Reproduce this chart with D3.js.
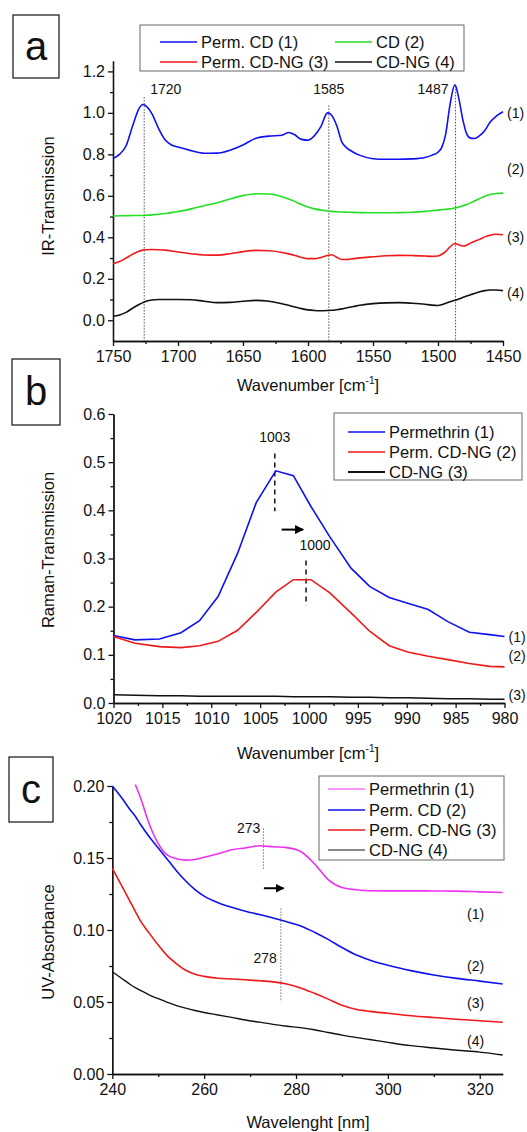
<!DOCTYPE html>
<html lang="en">
<head>
  <meta charset="UTF-8">
  <title>Spectra</title>
  <script src="https://d3js.org/d3.v7.min.js"></script>
  <style>
    body { margin: 0; background: #fff; }
    text { font-family: 'Liberation Sans', Arial, sans-serif; fill: #111; }
  </style>
</head>
<body>
  <div id="root"></div>
  <script>
    // a - IR
    const irWave = [1750, 1745, 1740, 1735, 1730, 1727, 1724, 1720, 1715, 1710, 1705, 1700, 1690, 1680, 1670, 1660, 1650, 1640, 1630, 1620, 1615, 1610, 1605, 1600, 1595, 1590, 1585, 1582, 1578, 1574, 1570, 1565, 1560, 1550, 1540, 1530, 1520, 1510, 1505, 1500, 1497, 1494, 1491, 1487, 1484, 1481, 1478, 1475, 1472, 1468, 1464, 1460, 1455, 1450]
    const irPermCD = [0.78, 0.80, 0.84, 0.935, 1.02, 1.04, 1.03, 0.995, 0.925, 0.87, 0.845, 0.835, 0.818, 0.805, 0.806, 0.82, 0.845, 0.878, 0.888, 0.892, 0.905, 0.893, 0.872, 0.868, 0.89, 0.935, 1.0, 0.99, 0.94, 0.86, 0.83, 0.81, 0.795, 0.779, 0.776, 0.776, 0.778, 0.785, 0.795, 0.81, 0.835, 0.90, 1.03, 1.135, 1.07, 0.97, 0.90, 0.878, 0.876, 0.89, 0.915, 0.955, 0.985, 1.005]
    const irCD = [0.503, 0.504, 0.504, 0.505, 0.505, 0.505, 0.506, 0.508, 0.511, 0.515, 0.519, 0.524, 0.537, 0.552, 0.567, 0.585, 0.601, 0.610, 0.609, 0.596, 0.585, 0.572, 0.558, 0.546, 0.537, 0.531, 0.527, 0.525, 0.523, 0.522, 0.521, 0.520, 0.519, 0.518, 0.518, 0.519, 0.521, 0.525, 0.528, 0.531, 0.533, 0.535, 0.537, 0.541, 0.546, 0.552, 0.558, 0.566, 0.575, 0.587, 0.598, 0.606, 0.611, 0.613]
    const irPermCDNG = [0.273, 0.283, 0.30, 0.318, 0.333, 0.338, 0.340, 0.341, 0.340, 0.338, 0.334, 0.329, 0.321, 0.315, 0.314, 0.321, 0.331, 0.337, 0.335, 0.327, 0.32, 0.312, 0.303, 0.297, 0.297, 0.303, 0.312, 0.316, 0.304, 0.293, 0.293, 0.297, 0.301, 0.306, 0.311, 0.313, 0.312, 0.31, 0.308, 0.31, 0.318, 0.332, 0.352, 0.37, 0.364, 0.358, 0.362, 0.372, 0.38, 0.39, 0.402, 0.41, 0.415, 0.412]
    const irCDNG = [0.019, 0.025, 0.038, 0.058, 0.076, 0.085, 0.093, 0.098, 0.1, 0.1, 0.1, 0.1, 0.099, 0.092, 0.085, 0.086, 0.092, 0.096, 0.092, 0.08, 0.072, 0.064, 0.056, 0.05, 0.047, 0.046, 0.047, 0.048, 0.051, 0.055, 0.06, 0.066, 0.072, 0.08, 0.084, 0.085, 0.082, 0.077, 0.073, 0.071, 0.075, 0.082, 0.089, 0.096, 0.102, 0.11, 0.117, 0.123, 0.129, 0.137, 0.143, 0.146, 0.146, 0.143]
    const irPeaks = [['1720', 1726, 1.076], ['1585', 1584, 1.036], ['1487', 1486.5, 1.13]]

    // b - Raman
    const ramanWave = [1020, 1017.8, 1015.3, 1013.1, 1011.2, 1009.3, 1007.3, 1005.4, 1003.4, 1001.6, 999.8, 997.9, 995.7, 993.8, 991.8, 989.9, 987.8, 985.8, 983.6, 981.5, 980]
    const ramanPerm = [0.14, 0.131, 0.133, 0.146, 0.171, 0.221, 0.311, 0.416, 0.482, 0.472, 0.408, 0.346, 0.28, 0.242, 0.219, 0.207, 0.194, 0.169, 0.147, 0.142, 0.138]
    const ramanPermCDNG = [0.138, 0.124, 0.117, 0.115, 0.119, 0.128, 0.151, 0.188, 0.23, 0.256, 0.256, 0.229, 0.187, 0.149, 0.119, 0.106, 0.097, 0.09, 0.082, 0.076, 0.075]
    const ramanCDNG = [0.017, 0.016, 0.015, 0.015, 0.014, 0.014, 0.014, 0.014, 0.014, 0.013, 0.013, 0.013, 0.012, 0.012, 0.011, 0.011, 0.010, 0.009, 0.009, 0.008, 0.008]

    // c - UV
    const uvWave = [240, 242, 244, 245, 246, 248, 250, 252, 254, 256, 258, 260, 263, 266, 269, 272, 275, 278, 281, 284, 287, 290, 293, 296, 300, 305, 310, 315, 320, 325]
    const uvPerm = [null, null, null, 0.201, 0.193, 0.174, 0.16, 0.152, 0.1495, 0.1485, 0.149, 0.1505, 0.153, 0.1557, 0.157, 0.1585, 0.1578, 0.1572, 0.1545, 0.146, 0.135, 0.1295, 0.128, 0.1273, 0.1272, 0.1272, 0.1271, 0.127, 0.1265, 0.126]
    const uvPermCD = [0.2, 0.192, 0.183, 0.179, 0.174, 0.165, 0.157, 0.149, 0.141, 0.134, 0.128, 0.1235, 0.119, 0.1158, 0.113, 0.1107, 0.1083, 0.1057, 0.1028, 0.0985, 0.0935, 0.0878, 0.0828, 0.0792, 0.0755, 0.0718, 0.0688, 0.0664, 0.0645, 0.0625]
    const uvPermCDNG = [0.1428, 0.131, 0.119, 0.113, 0.107, 0.098, 0.0895, 0.082, 0.0765, 0.072, 0.0693, 0.0678, 0.0665, 0.066, 0.0654, 0.0648, 0.064, 0.0625, 0.0598, 0.056, 0.052, 0.0478, 0.045, 0.0435, 0.0422, 0.0405, 0.0392, 0.038, 0.037, 0.0359]
    const uvCDNG = [0.071, 0.0665, 0.062, 0.06, 0.0583, 0.055, 0.0523, 0.0498, 0.0475, 0.0457, 0.0441, 0.0427, 0.041, 0.0393, 0.0375, 0.036, 0.0345, 0.0332, 0.0322, 0.0307, 0.0288, 0.027, 0.0254, 0.024, 0.022, 0.0197, 0.0181, 0.0165, 0.0152, 0.0132]

    const svg = d3.select('#root')
      .append('svg')
      .attr('width', 527)
      .attr('height', 1132)
      .style('background', '#fff')

    svg.append('defs').append('marker')
      .attr('id', 'head')
      .attr('viewBox', '0 0 10 10')
      .attr('refX', 9).attr('refY', 5)
      .attr('markerWidth', 4.5).attr('markerHeight', 4.5)
      .attr('orient', 'auto')
      .append('path').attr('d', 'M0,0L10,5L0,10Z').attr('fill', '#000')

    function axes(x, y, o) {
      const g = svg.append('g')
      const x0 = x.range()[0], y0 = y.range()[0]
      g.append('g').attr('transform', `translate(0,${y0})`)
        .call(d3.axisBottom(x).tickValues(o.xMinor).tickSize(3).tickFormat('').tickSizeOuter(0))
      g.append('g').attr('transform', `translate(0,${y0})`)
        .call(d3.axisBottom(x).tickValues(o.xMajor).tickSize(5).tickPadding(5).tickSizeOuter(0).tickFormat(d3.format('d')))
      g.append('g').attr('transform', `translate(${x0},0)`)
        .call(d3.axisLeft(y).tickValues(o.yMinor).tickSize(3).tickFormat('').tickSizeOuter(0))
      g.append('g').attr('transform', `translate(${x0},0)`)
        .call(d3.axisLeft(y).tickValues(o.yMajor).tickSize(5).tickPadding(3).tickSizeOuter(0).tickFormat(d3.format(o.fmt)))
      g.selectAll('text').attr('font-size', 16)
      g.selectAll('path, line').attr('stroke', '#111').attr('stroke-width', 1.3)

      const xt = g.append('text').attr('x', o.xTitlePos[0]).attr('y', o.xTitlePos[1])
        .attr('text-anchor', 'middle').attr('font-size', 16.5).text(o.xTitle)
      if (o.sup) {
        xt.append('tspan').attr('font-size', 10).attr('dy', -7).text(o.sup)
        xt.append('tspan').attr('dy', 7).text(']')
      }
      g.append('text')
        .attr('transform', `translate(${o.yTitlePos[0]},${o.yTitlePos[1]}) rotate(-90)`)
        .attr('text-anchor', 'middle').attr('font-size', 16.5).text(o.yTitle)

      // panel letter
      const b = o.box
      g.append('rect').attr('x', b[0]).attr('y', b[1]).attr('width', b[2]).attr('height', b[3])
        .attr('fill', 'none').attr('stroke', '#111').attr('stroke-width', 1.2)
      g.append('text').attr('x', b[0] + b[2] / 2).attr('y', b[1] + b[3] / 2 + 13)
        .attr('text-anchor', 'middle').attr('font-size', 40).text(o.letter)
      return g
    }

    function curve(x, y, xs, ys, color, type, w) {
      const line = d3.line()
        .defined(i => ys[i] != null)
        .x(i => x(xs[i]))
        .y(i => y(ys[i]))
        .curve(type)
      svg.append('path')
        .attr('d', line(d3.range(xs.length)))
        .attr('fill', 'none')
        .attr('stroke', color)
        .attr('stroke-width', w || 1.6)
    }

    function legend(box, items, lx, rowY, cols) {
      const g = svg.append('g')
      g.append('rect').attr('x', box[0]).attr('y', box[1]).attr('width', box[2]).attr('height', box[3])
        .attr('fill', '#fff').attr('stroke', '#666').attr('stroke-width', 1)
      items.forEach((it, i) => {
        const c = cols ? i % cols : 0
        const r = cols ? Math.floor(i / cols) : i
        const sx = lx[c]
        const yy = rowY[r]
        g.append('line').attr('x1', sx).attr('x2', sx + 37).attr('y1', yy).attr('y2', yy)
          .attr('stroke', it[1]).attr('stroke-width', it[2] || 1.6)
        g.append('text').attr('x', sx + 41).attr('y', yy + 6).attr('font-size', 16.5).text(it[0])
      })
    }

    function label(x, y, t, anchor, size) {
      svg.append('text').attr('x', x).attr('y', y).attr('text-anchor', anchor || 'start')
        .attr('font-size', size || 14).text(t)
    }

    const blue = '#1010f0', green = '#22e022', red = '#f01818', black = '#111', magenta = '#f030f0'

    // ---------- a ----------
    const xa = d3.scaleLinear().domain([1750, 1450]).range([113, 503])
    const ya = d3.scaleLinear().domain([-0.1, 1.25]).range([341, 61])
    axes(xa, ya, {
      xMajor: d3.range(1750, 1449, -50), xMinor: d3.range(1725, 1450, -50),
      yMajor: [0, 0.2, 0.4, 0.6, 0.8, 1.0, 1.2], yMinor: [0.1, 0.3, 0.5, 0.7, 0.9, 1.1], fmt: '.1f',
      xTitle: 'Wavenumber [cm', sup: '-1', xTitlePos: [308, 391],
      yTitle: 'IR-Transmission', yTitlePos: [54, 196],
      box: [13, 15, 46, 63], letter: 'a'
    })
    irPeaks.forEach(p => {
      svg.append('line').attr('x1', xa(p[1])).attr('x2', xa(p[1])).attr('y1', ya(p[2])).attr('y2', ya(-0.1))
        .attr('stroke', '#555').attr('stroke-width', 1).attr('stroke-dasharray', '1.5,1.5')
    })
    label(xa(1726) + 6, 94, irPeaks[0][0])
    label(xa(1584), 94, irPeaks[1][0], 'middle')
    label(xa(1486.5) - 7, 94, irPeaks[2][0], 'end')
    curve(xa, ya, irWave, irPermCD, blue, d3.curveMonotoneX)
    curve(xa, ya, irWave, irCD, green, d3.curveMonotoneX)
    curve(xa, ya, irWave, irPermCDNG, red, d3.curveMonotoneX)
    curve(xa, ya, irWave, irCDNG, black, d3.curveMonotoneX)
    ;[['(1)', 1.0], ['(2)', 0.73], ['(3)', 0.40], ['(4)', 0.13]].forEach(d => label(xa(1450) + 4, ya(d[1]) + 5, d[0]))
    legend([140, 25, 324, 46], [['Perm. CD (1)', blue], ['CD (2)', green], ['Perm. CD-NG (3)', red], ['CD-NG (4)', black, 1.3]],
      [160, 335], [42, 62], 2)

    // ---------- b ----------
    const xb = d3.scaleLinear().domain([1020, 980]).range([113.5, 504.5])
    const yb = d3.scaleLinear().domain([0, 0.6]).range([703, 414])
    axes(xb, yb, {
      xMajor: d3.range(1020, 979, -5), xMinor: d3.range(1017.5, 980, -5),
      yMajor: [0, 0.1, 0.2, 0.3, 0.4, 0.5, 0.6], yMinor: [0.05, 0.15, 0.25, 0.35, 0.45, 0.55], fmt: '.1f',
      xTitle: 'Wavenumber [cm', sup: '-1', xTitlePos: [308, 759],
      yTitle: 'Raman-Transmission', yTitlePos: [54, 550],
      box: [12, 359, 48, 66], letter: 'b'
    })
    svg.append('line').attr('x1', xb(1003.5)).attr('x2', xb(1003.5)).attr('y1', yb(0.518)).attr('y2', yb(0.398))
      .attr('stroke', '#111').attr('stroke-width', 1.5).attr('stroke-dasharray', '5,4')
    svg.append('line').attr('x1', xb(1000.3)).attr('x2', xb(1000.3)).attr('y1', yb(0.296)).attr('y2', yb(0.202))
      .attr('stroke', '#111').attr('stroke-width', 1.5).attr('stroke-dasharray', '5,4')
    label(xb(1003.5), 442, '1003', 'middle')
    label(xb(1000.3) + 9, 550, '1000', 'middle')
    svg.append('line').attr('x1', xb(1002.8)).attr('x2', xb(1000.6)).attr('y1', yb(0.36)).attr('y2', yb(0.36))
      .attr('stroke', '#000').attr('stroke-width', 2).attr('marker-end', 'url(#head)')
    curve(xb, yb, ramanWave, ramanPerm, blue, d3.curveLinear)
    curve(xb, yb, ramanWave, ramanPermCDNG, red, d3.curveLinear)
    curve(xb, yb, ramanWave, ramanCDNG, black, d3.curveLinear, 1.5)
    ;[['(1)', 0.138], ['(2)', 0.097], ['(3)', 0.017]].forEach(d => label(xb(980) + 4, yb(d[1]) + 5, d[0]))
    legend([334, 413, 188, 67], [['Permethrin (1)', blue, 1.3], ['Perm. CD-NG (2)', red, 1.3], ['CD-NG (3)', black, 1.8]],
      [348], [432, 452, 472])

    // ---------- c ----------
    const xc = d3.scaleLinear().domain([240, 325]).range([112.3, 502.7])
    const yc = d3.scaleLinear().domain([0, 0.2]).range([1074, 786])
    axes(xc, yc, {
      xMajor: [240, 260, 280, 300, 320], xMinor: [250, 270, 290, 310],
      yMajor: [0, 0.05, 0.1, 0.15, 0.2], yMinor: [0.025, 0.075, 0.125, 0.175], fmt: '.2f',
      xTitle: 'Wavelenght [nm]', xTitlePos: [308, 1128],
      yTitle: 'UV-Absorbance', yTitlePos: [54, 942],
      box: [9, 757, 44, 65], letter: 'c'
    })
    svg.append('line').attr('x1', xc(272.9)).attr('x2', xc(272.9)).attr('y1', yc(0.1706)).attr('y2', yc(0.1417))
      .attr('stroke', '#777').attr('stroke-width', 1).attr('stroke-dasharray', '1.5,1.5')
    svg.append('line').attr('x1', xc(276.7)).attr('x2', xc(276.7)).attr('y1', yc(0.115)).attr('y2', yc(0.0502))
      .attr('stroke', '#777').attr('stroke-width', 1).attr('stroke-dasharray', '1.5,1.5')
    label(xc(272.9) - 3, 833, '273', 'end')
    label(xc(276.7) - 4, 963, '278', 'end')
    svg.append('line').attr('x1', xc(273)).attr('x2', xc(277.3)).attr('y1', yc(0.129)).attr('y2', yc(0.129))
      .attr('stroke', '#000').attr('stroke-width', 2).attr('marker-end', 'url(#head)')
    curve(xc, yc, uvWave, uvPerm, magenta, d3.curveMonotoneX)
    curve(xc, yc, uvWave, uvPermCD, blue, d3.curveMonotoneX)
    curve(xc, yc, uvWave, uvPermCDNG, red, d3.curveMonotoneX)
    curve(xc, yc, uvWave, uvCDNG, black, d3.curveMonotoneX, 1.4)
    ;[['(1)', 0.111], ['(2)', 0.075], ['(3)', 0.049], ['(4)', 0.023]].forEach(d => label(467, yc(d[1]) + 5, d[0]))
    legend([319, 776, 185, 84], [['Permethrin (1)', magenta, 1.2], ['Perm. CD (2)', blue, 1.6], ['Perm. CD-NG (3)', red, 1.6], ['CD-NG (4)', black, 1.2]],
      [328], [789, 810, 830, 850])
  </script>
</body>
</html>
